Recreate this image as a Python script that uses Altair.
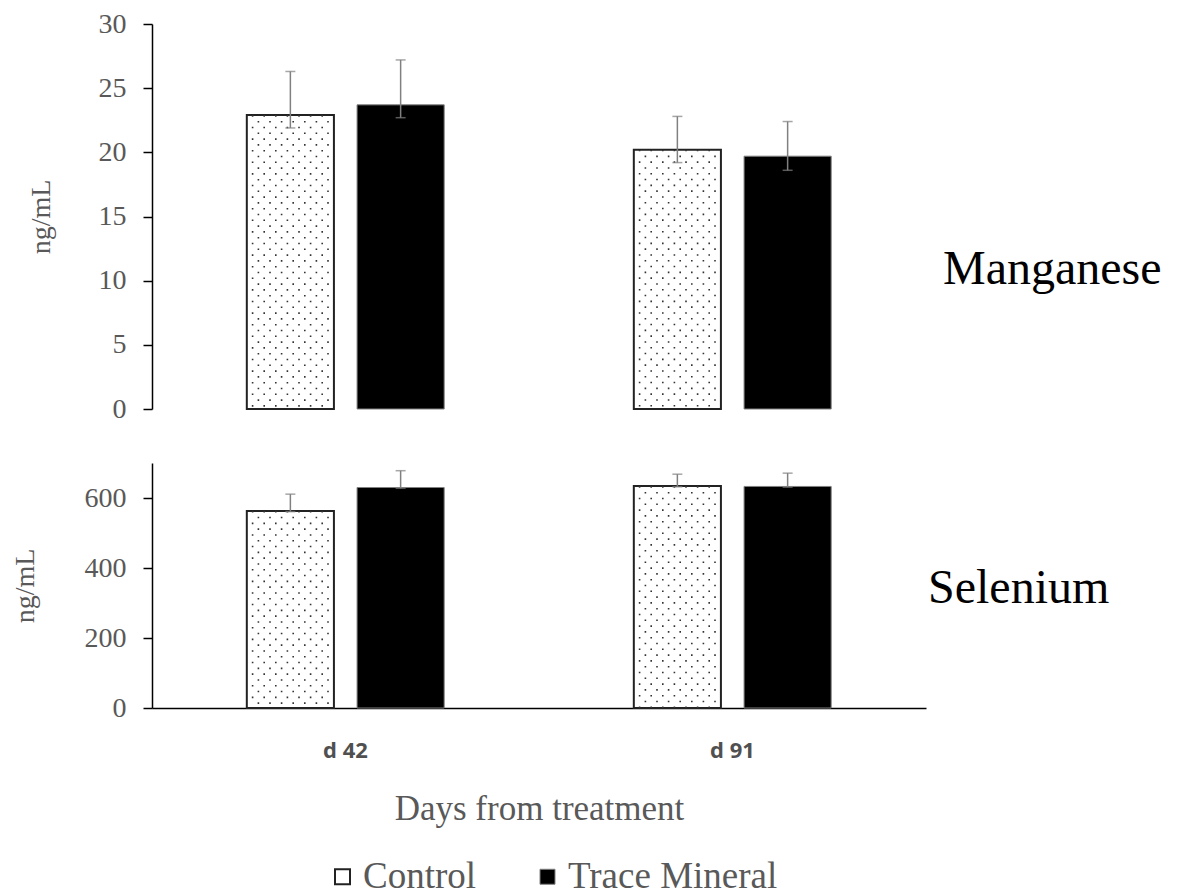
import altair as alt
import pandas as pd

# ---------------- data ----------------
days = ["d 42", "d 91"]
treatments = ["Control", "Trace Mineral"]

mn_control = [22.9, 20.2]
mn_control_lo = [21.9, 19.2]
mn_control_hi = [26.3, 22.8]
mn_trace = [23.7, 19.7]
mn_trace_lo = [22.7, 18.6]
mn_trace_hi = [27.2, 22.4]

se_control = [563, 634]
se_control_lo = [561, 632]
se_control_hi = [611, 668]
se_trace = [630, 633]
se_trace_lo = [628, 631]
se_trace_hi = [678, 671]

mn_ticks = [0, 5, 10, 15, 20, 25, 30]
se_ticks = [0, 200, 400, 600]

panel_labels = ["Manganese", "Selenium"]


def frame(c, c_lo, c_hi, t, t_lo, t_hi):
    rows = []
    for i, d in enumerate(days):
        rows.append(dict(day=d, treatment=treatments[0], value=c[i], lo=c_lo[i], hi=c_hi[i]))
        rows.append(dict(day=d, treatment=treatments[1], value=t[i], lo=t_lo[i], hi=t_hi[i]))
    return pd.DataFrame(rows)


mn_df = frame(mn_control, mn_control_lo, mn_control_hi, mn_trace, mn_trace_lo, mn_trace_hi)
se_df = frame(se_control, se_control_lo, se_control_hi, se_trace, se_trace_lo, se_trace_hi)

W = 774
SERIF = "Liberation Serif"
GRAY = "#595959"
ERR = "#808080"

x_scale = alt.Scale(domain=days, paddingInner=0.49, paddingOuter=0.245)
xo_scale = alt.Scale(domain=treatments, paddingInner=0.21, paddingOuter=0)


def panel(df, ymax, yticks, h, show_x, label, label_dx, label_y, ytitle_x):
    if show_x:
        x_axis = alt.Axis(
            title="Days from treatment", labelFont="Open Sans", labelFontWeight="bold",
            labelFontSize=22, labelColor="#505050", labelAngle=0, ticks=False, tickSize=0,
            labelPadding=32, titleFont=SERIF, titleFontSize=35, titleFontWeight="normal",
            titleColor=GRAY, titlePadding=30, domainColor="#000", domainWidth=1.5,
        )
    else:
        x_axis = None
    x_enc = alt.X("day:N", sort=days, scale=x_scale, axis=x_axis)
    xo_enc = alt.XOffset("treatment:N", sort=treatments, scale=xo_scale)
    y_enc = alt.Y(
        "value:Q",
        scale=alt.Scale(domain=[0, ymax], nice=False, zero=True),
        axis=alt.Axis(
            values=yticks, title="ng/mL", titleFont=SERIF, titleFontSize=28,
            titleFontWeight="normal", titleColor=GRAY, titleX=ytitle_x, titleY=h / 2,
            titleBaseline="middle", titleAlign="center", grid=False,
        ),
    )
    base = alt.Chart(df)
    bars = base.mark_bar().encode(
        x=x_enc,
        xOffset=xo_enc,
        y=y_enc,
        y2=alt.datum(0),
        fill=alt.Fill("treatment:N", sort=treatments,
                      scale=alt.Scale(domain=treatments, range=["#ffffff", "#000000"]),
                      legend=alt.Legend(title=None)),
        stroke=alt.Stroke("treatment:N", sort=treatments,
                          scale=alt.Scale(domain=treatments, range=["#222222", "#808080"]),
                          legend=alt.Legend(title=None)),
        strokeWidth=alt.StrokeWidth("treatment:N",
                                    scale=alt.Scale(domain=treatments, range=[2, 1]),
                                    legend=None),
    )
    layers = [bars]
    ctrl = base.transform_filter(alt.datum.treatment == treatments[0])
    ncol = 14
    for i in range(ncol):
        off = -55.2 + (i - (ncol - 1) / 2) * 5.8
        layers.append(
            ctrl.mark_rule(
                xOffset=off, strokeDash=[1.6, 10.0], strokeDashOffset=(0 if i % 2 == 0 else 5.8),
                color="#333333", strokeWidth=1.6,
            ).encode(x=alt.X("day:N", sort=days, scale=x_scale), y="value:Q", y2=alt.datum(0))
        )
    err = base.mark_rule(color=ERR, strokeWidth=1.5).encode(
        x=alt.X("day:N", sort=days, scale=x_scale), xOffset=xo_enc, y="lo:Q", y2="hi:Q"
    )
    cap_hi = base.mark_tick(color=ERR, size=10, thickness=1.5).encode(
        x=alt.X("day:N", sort=days, scale=x_scale), xOffset=xo_enc, y="hi:Q"
    )
    cap_lo = base.mark_tick(color=ERR, size=10, thickness=1.5).encode(
        x=alt.X("day:N", sort=days, scale=x_scale), xOffset=xo_enc, y="lo:Q"
    )
    lab = alt.Chart(pd.DataFrame({"label": [label]})).mark_text(
        font=SERIF, fontSize=48, color="#000000", align="left", baseline="middle"
    ).encode(text="label:N", x=alt.value(W + label_dx), y=alt.value(label_y))
    layers += [err, cap_hi, cap_lo, lab]
    return alt.layer(*layers).properties(width=W, height=h)


top = panel(mn_df, 30, mn_ticks, 385, False, panel_labels[0], 17, 246, -111)
bottom = panel(se_df, 700, se_ticks, 245, True, panel_labels[1], 2, 126, -127)

chart = (
    alt.vconcat(top, bottom, spacing=40)
    .properties(padding={"left": 3, "top": 2, "right": 5, "bottom": 5})
    .configure_view(stroke=None)
    .configure_axis(
        labelFont=SERIF, labelFontSize=28, labelColor=GRAY, domainColor="#000",
        domainWidth=1.5, tickColor="#000", tickWidth=1.5, tickSize=9, labelPadding=17,
        grid=False,
    )
    .configure_legend(
        orient="none", legendX=172, legendY=834, direction="horizontal",
        symbolType="square", symbolSize=225, symbolStrokeWidth=1.5,
        labelFont=SERIF, labelFontSize=37, labelColor=GRAY, labelOffset=2,
        columnPadding=52, padding=0, labelLimit=400,
    )
)

chart.save("out.html", embed_options={"renderer": "svg", "actions": False})
